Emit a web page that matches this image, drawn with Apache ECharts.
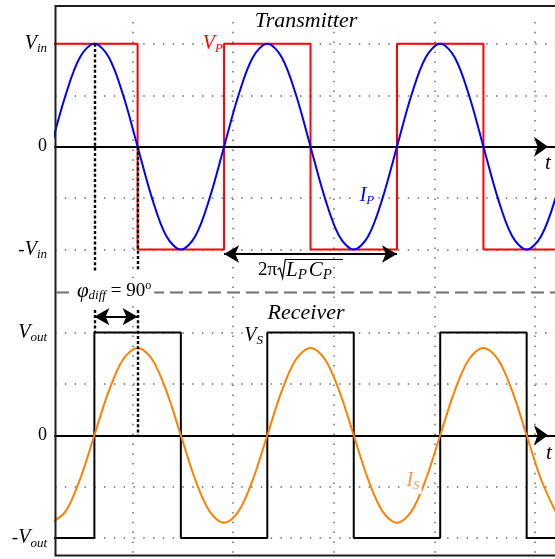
<!DOCTYPE html>
<html>
<head>
<meta charset="utf-8">
<script src="https://cdn.jsdelivr.net/npm/echarts@6/dist/echarts.min.js"></script>
<style>
  html, body { margin: 0; padding: 0; background: #fff; }
  #chart { width: 555px; height: 559px; }
</style>
</head>
<body>
<div id="chart"></div>
<script>
// ---- Waveform data (phase in electrical degrees of the transmitter voltage) ----
// Sampling instants for the two resonant currents
const phaseDeg = [0, 30, 60, 90, 120, 150, 180, 210, 240, 270, 300, 330,
                  360, 390, 420, 450, 480, 510, 540, 570, 600, 630, 660, 690,
                  720, 750, 780, 810, 840, 870, 900, 930, 960, 990, 1020, 1050];
// Primary current I_P (scaled to V_in)
const currentP = [0, 0.5, 0.87, 1, 0.87, 0.5, 0, -0.5, -0.87, -1, -0.87, -0.5,
                  0, 0.5, 0.87, 1, 0.87, 0.5, 0, -0.5, -0.87, -1, -0.87, -0.5,
                  0, 0.5, 0.87, 1, 0.87, 0.5, 0, -0.5, -0.87, -1, -0.87, -0.5];
// Secondary current I_S (scaled to V_out)
const currentS = [-0.85, -0.74, -0.43, 0, 0.43, 0.74, 0.85, 0.74, 0.43, 0, -0.43, -0.74,
                  -0.85, -0.74, -0.43, 0, 0.43, 0.74, 0.85, 0.74, 0.43, 0, -0.43, -0.74,
                  -0.85, -0.74, -0.43, 0, 0.43, 0.74, 0.85, 0.74, 0.43, 0, -0.43, -0.74];
// Square-wave switching instants and the level held after each one
const edgesP  = [0, 180, 360, 540, 720, 900, 1080];
const levelsP = [1, -1, 1, -1, 1, -1, -1];
const edgesS  = [-90, 90, 270, 450, 630, 810, 990, 1080];
const levelsS = [-1, 1, -1, 1, -1, 1, -1, -1];
// Phase markers: I_P peak / V_S rising edge, and V_P falling edge / I_S peak
const phaseMarks = [90, 180];
// One resonant period, shown by the 2*pi*sqrt(LpCp) arrow
const periodSpan = [360, 720];
// Tick labels of the two voltage axes
const txTickLabels = { '1': '{v|V}{s|in}', '0': '{n|0}', '-1': '{m|-}{v|V}{s|in}' };
const rxTickLabels = { '1': '{v|V}{s|out}', '0': '{n|0}', '-1': '{m|-}{v|V}{s|out}' };

const SERIF = '"Liberation Serif", "Times New Roman", serif';
const pairs = (xs, ys) => xs.map((x, i) => [x, ys[i]]);

const dots = { color: '#6e6e6e', width: 1.5, type: [1.5, 8.3] };
const markDots = { color: '#000', width: 2.4, type: [3, 2.2] };
const arrowStroke = { color: '#000', width: 2, type: 'solid' };

const axisRich = {
  v: { fontFamily: SERIF, fontStyle: 'italic', fontSize: 20, lineHeight: 26, color: '#000' },
  s: { fontFamily: SERIF, fontStyle: 'italic', fontSize: 13, lineHeight: 14, padding: [10, 0, 0, 0], color: '#000' },
  m: { fontFamily: SERIF, fontSize: 19, lineHeight: 26, color: '#000' },
  n: { fontFamily: SERIF, fontSize: 18, lineHeight: 26, color: '#000' }
};

function voltageAxis(gridIndex, labels) {
  return {
    type: 'value', gridIndex, min: -1.5, max: 1.5, interval: 0.5,
    axisLine: { show: false }, axisTick: { show: false },
    axisLabel: { margin: 8, formatter: v => labels[String(v)] || '', rich: axisRich },
    splitLine: { show: true, showMinLine: false, showMaxLine: false, lineStyle: dots }
  };
}
function timeAxis(gridIndex) {
  return {
    type: 'value', gridIndex, min: 8, max: 1049,
    axisLine: {
      show: true, onZero: true, symbol: ['none', 'arrow'], symbolSize: [15, 14],
      symbolOffset: [0, -7], lineStyle: { color: '#000', width: 2 }
    },
    axisTick: { show: false }, axisLabel: { show: false }, splitLine: { show: false }
  };
}
function segment(a, b, style, arrows) {
  const s = arrows ? { symbol: 'arrow', symbolSize: [13, 15] } : { symbol: 'none' };
  return [Object.assign({ coord: a, lineStyle: style }, s), Object.assign({ coord: b }, s)];
}

const textRich = (color) => ({
  v: { fontFamily: SERIF, fontStyle: 'italic', fontSize: 20, lineHeight: 26, fill: color },
  s: { fontFamily: SERIF, fontStyle: 'italic', fontSize: 13, lineHeight: 14, padding: [10, 0, 0, 0], fill: color }
});

const option = {
  animation: false,
  backgroundColor: '#fff',
  grid: [
    { left: 55, width: 500, top: -7.6, height: 308.6, containLabel: false, outerBoundsMode: 'none' },
    { left: 55, width: 500, top: 281.1, height: 308.4, containLabel: false, outerBoundsMode: 'none' },
    { left: 32.1, width: 522.9, top: 22, height: 534, containLabel: false, outerBoundsMode: 'none' }
  ],
  xAxis: [
    timeAxis(0),
    timeAxis(1),
    {
      type: 'value', gridIndex: 2, min: 0, max: 5.2, interval: 1,
      axisLine: { show: false }, axisTick: { show: false }, axisLabel: { show: false },
      splitLine: { show: true, showMinLine: false, showMaxLine: false, lineStyle: dots }
    }
  ],
  yAxis: [
    voltageAxis(0, txTickLabels),
    voltageAxis(1, rxTickLabels),
    { type: 'value', gridIndex: 2, min: 0, max: 1, show: false }
  ],
  series: [
    {
      name: 'V_P', type: 'line', xAxisIndex: 0, yAxisIndex: 0, step: 'end', symbol: 'none',
      data: pairs(edgesP, levelsP), lineStyle: { color: '#ff0000', width: 2 }, z: 3,
      markLine: {
        silent: true, symbol: 'none', label: { show: false }, animation: false,
        data: [
          segment([phaseMarks[0], 1], [phaseMarks[0], -1.21], markDots),
          segment([phaseMarks[1], 0], [phaseMarks[1], -1.2], markDots),
          segment([periodSpan[0], -1.043], [periodSpan[1], -1.043], arrowStroke, true)
        ]
      }
    },
    {
      name: 'I_P', type: 'line', xAxisIndex: 0, yAxisIndex: 0, smooth: 0.34, symbol: 'none',
      data: pairs(phaseDeg, currentP), lineStyle: { color: '#0000ff', width: 2 }, z: 4
    },
    {
      name: 'V_S', type: 'line', xAxisIndex: 1, yAxisIndex: 1, step: 'end', symbol: 'none',
      data: pairs(edgesS, levelsS), lineStyle: { color: '#000', width: 2 }, z: 3,
      markLine: {
        silent: true, symbol: 'none', label: { show: false }, animation: false,
        data: [
          segment([phaseMarks[0], 1.22], [phaseMarks[0], 1.0], markDots),
          segment([phaseMarks[1], 1.22], [phaseMarks[1], 0], markDots),
          segment([phaseMarks[0], 1.154], [phaseMarks[1], 1.154], arrowStroke, true)
        ]
      }
    },
    {
      name: 'I_S', type: 'line', xAxisIndex: 1, yAxisIndex: 1, smooth: 0.34, symbol: 'none',
      data: pairs(phaseDeg, currentS), lineStyle: { color: '#ff8000', width: 2 }, z: 4
    },
    { type: 'line', xAxisIndex: 2, yAxisIndex: 2, data: [], silent: true }
  ],
  graphic: {
    elements: [
      // plot frame
      { type: 'polyline', z: 10, shape: { points: [[556, 6], [55.5, 6], [55.5, 555.5], [556, 555.5]] },
        style: { stroke: '#1e1e1e', lineWidth: 2, fill: null } },
      // separator between the two panels
      { type: 'line', z: 10, shape: { x1: 56, y1: 292.5, x2: 556, y2: 292.5 },
        style: { stroke: '#707070', lineWidth: 2, lineDash: [13, 6] } },
      { type: 'text', z: 20, x: 306, y: 21,
        style: { text: 'Transmitter', font: 'italic 22px ' + SERIF, fill: '#000', align: 'center', verticalAlign: 'middle' } },
      { type: 'text', z: 20, x: 306, y: 313,
        style: { text: 'Receiver', font: 'italic 22px ' + SERIF, fill: '#000', align: 'center', verticalAlign: 'middle',
                 backgroundColor: '#fff', padding: [0, 2] } },
      { type: 'text', z: 20, x: 223, y: 44,
        style: { text: '{v|V}{s|P}', rich: textRich('#ff0000'), align: 'right', verticalAlign: 'middle', backgroundColor: '#fff' } },
      { type: 'text', z: 20, x: 367, y: 196,
        style: { text: '{v|I}{s|P}', rich: textRich('#0000ff'), align: 'center', verticalAlign: 'middle', backgroundColor: '#fff', padding: [0, 2] } },
      { type: 'text', z: 20, x: 263, y: 336,
        style: { text: '{v|V}{s|S}', rich: textRich('#000'), align: 'right', verticalAlign: 'middle', backgroundColor: '#fff' } },
      { type: 'text', z: 20, x: 413, y: 481,
        style: { text: '{v|I}{s|S}', rich: textRich('#f09a5a'), align: 'center', verticalAlign: 'middle', backgroundColor: '#fff', padding: [0, 2] } },
      { type: 'text', z: 20, x: 548, y: 163,
        style: { text: 't', font: 'italic 21px ' + SERIF, fill: '#000', align: 'center', verticalAlign: 'middle' } },
      { type: 'text', z: 20, x: 549, y: 453,
        style: { text: 't', font: 'italic 21px ' + SERIF, fill: '#000', align: 'center', verticalAlign: 'middle' } },
      // phase difference label
      { type: 'text', z: 20, x: 74, y: 291,
        style: {
          text: '{p|φ}{s|diff}{e| = 90}{o|o}', align: 'left', verticalAlign: 'middle',
          backgroundColor: '#fff', padding: [0, 3],
          rich: {
            p: { fontFamily: SERIF, fontStyle: 'italic', fontSize: 21, lineHeight: 26, fill: '#000' },
            s: { fontFamily: SERIF, fontStyle: 'italic', fontSize: 13, lineHeight: 14, padding: [10, 0, 0, 0], fill: '#000' },
            e: { fontFamily: SERIF, fontSize: 19, lineHeight: 26, fill: '#000' },
            o: { fontFamily: SERIF, fontSize: 12, lineHeight: 14, padding: [0, 0, 10, 0], fill: '#000' }
          }
        } },
      // resonant period label 2*pi*sqrt(Lp*Cp)
      { type: 'text', z: 20, x: 277, y: 270,
        style: { text: '2π', font: '19px ' + SERIF, fill: '#000', align: 'right', verticalAlign: 'middle' } },
      { type: 'polyline', z: 20, shape: { points: [[277.5, 269.5], [279.8, 268], [282.6, 278], [285.3, 259.5], [343, 259.5]] },
        style: { stroke: '#000', lineWidth: 1.2, fill: null } },
      { type: 'text', z: 20, x: 286, y: 270,
        style: {
          text: '{v|L}{s|P}{v|C}{s|P}', align: 'left', verticalAlign: 'middle',
          rich: {
            v: { fontFamily: SERIF, fontStyle: 'italic', fontSize: 21, lineHeight: 26, fill: '#000' },
            s: { fontFamily: SERIF, fontStyle: 'italic', fontSize: 15, lineHeight: 15, padding: [10, 2, 0, 0], fill: '#000' }
          }
        } }
    ]
  }
};

const chart = echarts.init(document.getElementById('chart'), null, { renderer: 'canvas' });
chart.setOption(option);
</script>
</body>
</html>
